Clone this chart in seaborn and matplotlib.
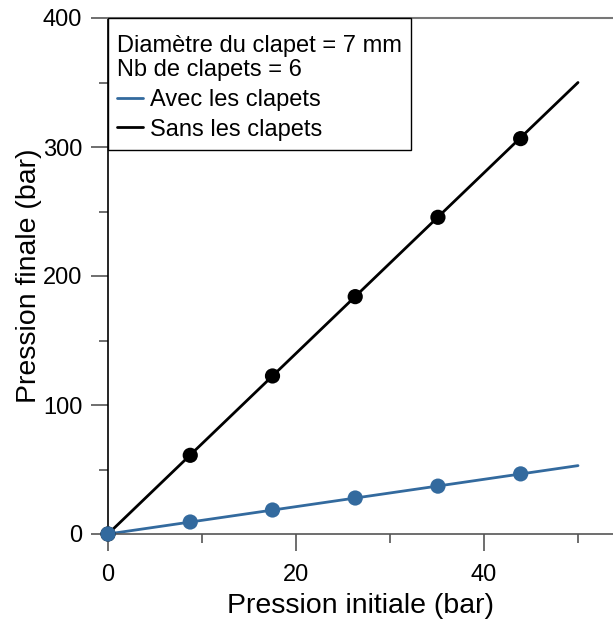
import matplotlib
matplotlib.use("Agg")
import matplotlib.pyplot as plt
from matplotlib.lines import Line2D
from matplotlib.offsetbox import DrawingArea
from matplotlib.ticker import MultipleLocator
import seaborn as sns
import pandas as pd

# Data
line_x = [0, 50]
sans_line_y = [0, 350]
avec_line_y = [0, 53]
pts_x = [0, 8.75, 17.5, 26.3, 35.1, 43.9]
sans_pts_y = [0, 61, 122.5, 184, 245.5, 306.5]
avec_pts_y = [0, 9.3, 18.6, 27.9, 37.1, 46.6]
legend_title = "Diamètre du clapet = 7 mm\nNb de clapets = 6"
series_names = ["Avec les clapets", "Sans les clapets"]
xlabel = "Pression initiale (bar)"
ylabel = "Pression finale (bar)"

BLUE = "#336a9e"
BLACK = "#000000"

sns.set_style("ticks")
plt.rcParams["font.family"] = ["Liberation Sans", "DejaVu Sans"]
plt.rcParams["text.color"] = "black"
plt.rcParams["axes.labelcolor"] = "black"
plt.rcParams["xtick.labelcolor"] = "black"
plt.rcParams["ytick.labelcolor"] = "black"

fig = plt.figure(figsize=(6.13, 6.19), dpi=100)
ax = fig.add_axes([108 / 613, (619 - 534) / 619, 1 - 108 / 613, (534 - 18) / 619])

lines_df = pd.DataFrame({"x": line_x * 2,
                         "y": sans_line_y + avec_line_y,
                         "s": [series_names[1]] * 2 + [series_names[0]] * 2})
pts_df = pd.DataFrame({"x": pts_x * 2,
                       "y": sans_pts_y + avec_pts_y,
                       "s": [series_names[1]] * len(pts_x) + [series_names[0]] * len(pts_x)})
pal = {series_names[0]: BLUE, series_names[1]: BLACK}

sns.lineplot(data=lines_df, x="x", y="y", hue="s", palette=pal, linewidth=2.0,
             legend=False, ax=ax, zorder=2)
sns.scatterplot(data=pts_df, x="x", y="y", hue="s", palette=pal, s=120,
                edgecolor="none", legend=False, ax=ax, zorder=3, clip_on=False)

ax.set_xlim(0, (613 - 108) / 9.4)
ax.set_ylim(0, 400)
ax.xaxis.set_major_locator(MultipleLocator(20))
ax.xaxis.set_minor_locator(MultipleLocator(10))
ax.yaxis.set_major_locator(MultipleLocator(100))
ax.yaxis.set_minor_locator(MultipleLocator(50))
ax.tick_params(which="major", length=12.5, width=1.2, color="#555555", labelsize=17, pad=6)
ax.tick_params(which="minor", length=6.5, width=1.2, color="#555555")
ax.tick_params(axis="x", which="major", pad=9)

ax.spines["right"].set_visible(False)
ax.spines["left"].set_color("black")
ax.spines["left"].set_linewidth(1.2)
ax.spines["bottom"].set_color("#555555")
ax.spines["bottom"].set_linewidth(1.2)
ax.spines["top"].set_color("#777777")
ax.spines["top"].set_linewidth(1.5)

ax.set_xlabel(xlabel, fontsize=20.5, labelpad=5)
ax.set_ylabel(ylabel, fontsize=20.5, labelpad=1)

handles = [Line2D([0], [0], color=BLUE, lw=2),
           Line2D([0], [0], color=BLACK, lw=2)]
leg = ax.legend(handles, series_names, title=legend_title, loc="upper left",
                bbox_to_anchor=(0, 1), fontsize=17, title_fontsize=17,
                frameon=True, fancybox=False, edgecolor="black", framealpha=1,
                handlelength=1.1, handletextpad=0.3, borderpad=0.38,
                labelspacing=0.33, borderaxespad=0, alignment="left")
leg.get_title().set_linespacing(1.13)
leg.get_frame().set_linewidth(1.0)
# extra space above the title (vertical only)
try:
    leg._legend_box._children.insert(0, DrawingArea(1, 0))
except Exception:
    pass

fig.savefig("out.png", dpi=100)
